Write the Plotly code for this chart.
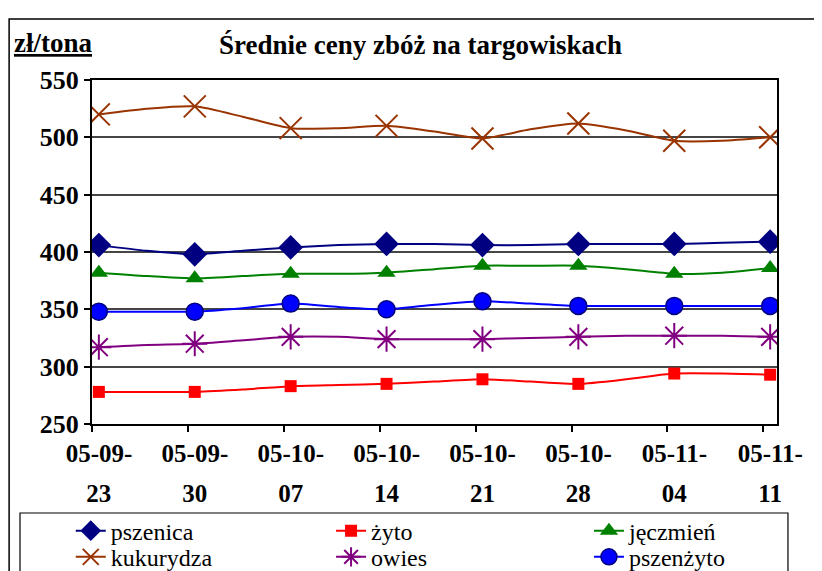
import plotly.graph_objects as go

# ---- data ----
date_labels_top = ["05-09-", "05-09-", "05-10-", "05-10-", "05-10-", "05-10-", "05-11-", "05-11-"]
date_labels_bottom = ["23", "30", "07", "14", "21", "28", "04", "11"]
days = [0, 7, 14, 21, 28, 35, 42, 49]          # days since 2005-09-23
mid_days = [3.5, 10.5, 17.5, 24.5, 31.5, 38.5, 45.5]
y_ticks = [250, 300, 350, 400, 450, 500, 550]

series_names = ["pszenica", "żyto", "jęczmień", "kukurydza", "owies", "pszenżyto"]

pszenica = [406, 398, 404, 407, 406, 407, 407, 409]
pszenica_mid = [401, 401, 406, 407, 406, 407, 408]
zyto = [278, 278, 283, 285, 289, 285, 294, 293]
zyto_mid = [278, 280, 284, 287, 287, 289, 294]
jeczmien = [382, 377, 381, 382, 388, 388, 381, 386]
jeczmien_mid = [379, 379, 381, 385, 388, 385, 382]
kukurydza = [520, 527, 508, 510, 499, 512, 497, 500]
kukurydza_mid = [525, 518, 508, 505, 507, 506, 497]
owies = [317, 320, 326, 324, 324, 326, 327, 326]
owies_mid = [319, 323, 326, 324, 325, 327, 327]
pszenzyto = [348, 348, 355, 350, 357, 353, 353, 353]
pszenzyto_mid = [348, 351, 352, 354, 355, 353, 353]

weekly = [pszenica, zyto, jeczmien, kukurydza, owies, pszenzyto]
mids = [pszenica_mid, zyto_mid, jeczmien_mid, kukurydza_mid, owies_mid, pszenzyto_mid]

# ---- styles ----
line_colors = ["#000080", "#FF0000", "#008000", "#993300", "#800080", "#0000FF"]
marker_styles = [
    dict(symbol="diamond", size=19, color="#000080"),
    dict(symbol="square", size=12, color="#FF0000"),
    dict(symbol="triangle-up", size=16, color="#008000"),
    dict(symbol="x-thin-open", size=22, color="#993300", line=dict(color="#993300", width=2)),
    dict(symbol="asterisk-open", size=21, color="#800080", line=dict(color="#800080", width=2)),
    dict(symbol="circle", size=17, color="#0000FF", line=dict(color="#000080", width=1.5)),
]
legend_ids = ["legend", "legend2", "legend3", "legend4", "legend5", "legend6"]

fig = go.Figure()
for name, wk, md, lc, ms, lg in zip(series_names, weekly, mids, line_colors, marker_styles, legend_ids):
    xs, ys = [], []
    for i in range(len(days)):
        xs.append(days[i]); ys.append(wk[i])
        if i < len(mid_days):
            xs.append(mid_days[i]); ys.append(md[i])
    fig.add_trace(go.Scatter(x=xs, y=ys, mode="lines", showlegend=False,
                             line=dict(color=lc, width=2, shape="spline", smoothing=0.6),
                             hoverinfo="skip"))
    fig.add_trace(go.Scatter(x=days, y=wk, mode="markers", marker=ms, showlegend=False, name=name))
    fig.add_trace(go.Scatter(x=[None], y=[None], mode="lines+markers", name=name, legend=lg,
                             line=dict(color=lc, width=2), marker=ms))

# invisible trace to activate second x axis (second line of date labels)
fig.add_trace(go.Scatter(x=days, y=[None] * len(days), xaxis="x2", showlegend=False, hoverinfo="skip"))

serif = "Liberation Serif"
tick_font = dict(family=serif, size=26, weight="bold", color="black")
xtick_font = dict(family=serif, size=25, weight="bold", color="black")
leg_common = dict(orientation="v", xanchor="left", yanchor="top",
                  borderwidth=0, bgcolor="rgba(0,0,0,0)", itemwidth=30,
                  font=dict(family=serif, size=24, color="black"), tracegroupgap=0)
col_x = [-0.031, 0.349, 0.7255]
row_y = [-0.246, -0.322]

fig.update_layout(
    width=814, height=563,
    margin=dict(l=84, r=45, t=72, b=147, autoexpand=False),
    paper_bgcolor="white", plot_bgcolor="white",
    font=dict(family=serif, color="black"),
    xaxis=dict(range=[-0.5, 49.5], tickmode="array",
               tickvals=[d - 0.5 for d in days], ticktext=date_labels_top,
               ticklabelshift=7, ticks="outside", ticklen=6, tickcolor="black", tickwidth=1.5,
               showline=True, linecolor="black", linewidth=2, mirror=True,
               showgrid=False, zeroline=False, ticklabelstandoff=0,
               tickfont=xtick_font),
    xaxis2=dict(overlaying="x", anchor="y", side="bottom", range=[-0.5, 49.5],
                tickmode="array", tickvals=days, ticktext=date_labels_bottom,
                ticks="", showline=False, showgrid=False, zeroline=False,
                ticklabelstandoff=52, tickfont=xtick_font),
    yaxis=dict(range=[250, 550], tickmode="array", tickvals=y_ticks,
               ticks="outside", ticklen=6, tickcolor="black", tickwidth=1.5,
               showline=True, linecolor="black", linewidth=2, mirror=True,
               showgrid=True, gridcolor="#454545", gridwidth=1.5, zeroline=False,
               tickfont=tick_font),
    legend=dict(x=col_x[0], y=row_y[0], **leg_common),
    legend2=dict(x=col_x[1], y=row_y[0], **leg_common),
    legend3=dict(x=col_x[2], y=row_y[0], **leg_common),
    legend4=dict(x=col_x[0], y=row_y[1], **leg_common),
    legend5=dict(x=col_x[1], y=row_y[1], **leg_common),
    legend6=dict(x=col_x[2], y=row_y[1], **leg_common),
    annotations=[
        dict(text="Średnie ceny zbóż na targowiskach", xref="paper", yref="paper",
             x=0.48, y=1.102, xanchor="center", yanchor="middle", showarrow=False,
             font=dict(family=serif, size=27, weight="bold", color="black")),
        dict(text="zł/tona", xref="paper", yref="paper",
             x=-0.117, y=1.108, xanchor="left", yanchor="middle", showarrow=False,
             font=dict(family=serif, size=27, weight="bold", color="black", lineposition="under")),
    ],
    shapes=[
        dict(type="rect", xref="paper", yref="paper", x0=-0.121, x1=1.0628,
             y0=-0.5, y1=1.177, line=dict(color="black", width=1.5), layer="below"),
        dict(type="rect", xref="paper", yref="paper", x0=-0.1051, x1=1.016,
             y0=-0.5, y1=-0.2587, line=dict(color="black", width=1.2), layer="below"),
    ],
)

fig.write_html("out.html")
